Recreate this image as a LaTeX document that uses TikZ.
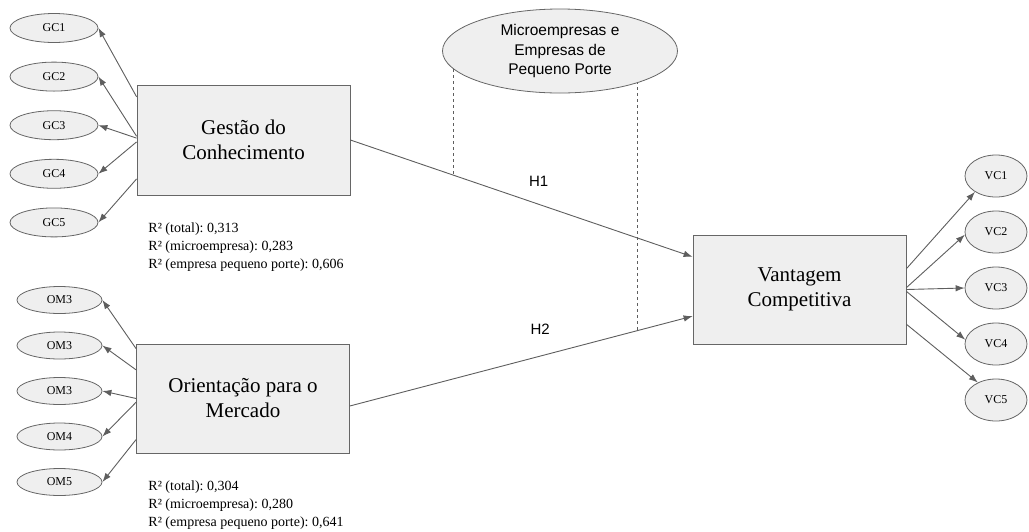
\documentclass[tikz,border=0pt]{standalone}
\usepackage{fontspec}
\setmainfont{Liberation Serif}
\newfontfamily\arialfont{Liberation Sans}
\usepackage{tikz}
\usetikzlibrary{arrows.meta,shapes,positioning}
\frenchspacing

\definecolor{boxfill}{HTML}{EFEFEF}
\definecolor{boxline}{HTML}{666666}
\definecolor{arrgray}{HTML}{5E5E5E}

\begin{document}
\begin{tikzpicture}[x=1pt,y=-1pt,->,>={Latex[length=9pt,width=6.5pt]},line width=0.9pt,
		node distance=48.6pt,
		every edge/.style={draw=arrgray},
		box/.style={rectangle,draw=boxline,fill=boxfill,line width=0.8pt,minimum width=213pt,
			minimum height=110pt,inner sep=0pt,align=center,font=\fontsize{21}{25}\selectfont},
		ind/.style={ellipse,draw=boxline,fill=boxfill,line width=0.8pt,minimum width=88pt,
			minimum height=29pt,inner sep=0pt,font=\fontsize{12}{14}\selectfont},
		rtext/.style={anchor=north west,inner sep=0pt,align=left,font=\fontsize{14}{18}\selectfont}]

		\useasboundingbox (0,0) rectangle (1029,531);

		% construtos
		\node[box] (GC) at (243.5,140) {Gestão do\\Conhecimento};
		\node[box, minimum height=109pt] (OM) at (243,398.5) {Orientação para o\\Mercado};
		\node[box, minimum height=109pt] (VC) at (799.5,289.5) {Vantagem\\Competitiva};

		% indicadores
		\node[ind] (GC1) at (54,28) {GC1};
		\node[ind] (GC2) [below of=GC1] {GC2};
		\node[ind] (GC3) [below of=GC2] {GC3};
		\node[ind] (GC4) [below of=GC3] {GC4};
		\node[ind] (GC5) [below of=GC4] {GC5};

		\node[ind, minimum width=85pt, minimum height=27pt] (OM1) at (59.5,300) {OM3};
		\node[ind, minimum width=85pt, minimum height=27pt, node distance=45.5pt] (OM2) [below of=OM1] {OM3};
		\node[ind, minimum width=85pt, minimum height=27pt, node distance=45.5pt] (OM3) [below of=OM2] {OM3};
		\node[ind, minimum width=85pt, minimum height=27pt, node distance=45.5pt] (OM4) [below of=OM3] {OM4};
		\node[ind, minimum width=85pt, minimum height=27pt, node distance=45.5pt] (OM5) [below of=OM4] {OM5};

		\node[ind, minimum width=62pt, minimum height=42pt, node distance=56pt] (VC1) at (996,176) {VC1};
		\node[ind, minimum width=62pt, minimum height=42pt, node distance=56pt] (VC2) [below of=VC1] {VC2};
		\node[ind, minimum width=62pt, minimum height=42pt, node distance=56pt] (VC3) [below of=VC2] {VC3};
		\node[ind, minimum width=62pt, minimum height=42pt, node distance=56pt] (VC4) [below of=VC3] {VC4};
		\node[ind, minimum width=62pt, minimum height=42pt, node distance=56pt] (VC5) [below of=VC4] {VC5};

		% R2
		\node[rtext] (GCr) at (148,222) {R² (total): 0,313\\R² (microempresa): 0,283\\R² (empresa pequeno porte): 0,606};
		\node[rtext] (OMr) at (148,480) {R² (total): 0,304\\R² (microempresa): 0,280\\R² (empresa pequeno porte): 0,641};

		\path
		(GC.158) edge (GC1.east)
		(GC.178) edge (GC2.east)
		(GC.179) edge (GC3.east)
		(GC.181) edge (GC4.east)
		(GC.200) edge (GC5.east)
		(OM.155) edge (OM1.east)
		(OM.165) edge (OM2.east)
		(OM.180) edge (OM3.east)
		(OM.182) edge (OM4.east)
		(OM.201) edge (OM5.east)
		(VC.11) edge (VC1.217)
		(VC.1) edge (VC2.185)
		(VC.0) edge (VC3.west)
		(VC.359) edge (VC4.172)
		(VC.342) edge (VC5.136);

		% hipoteses
		\path
		(GC.east) edge coordinate[pos=0.3] (m1) node[pos=0.55, above=14pt, font=\arialfont\fontsize{15}{18}\selectfont] {H1} (VC.163)
		(OM.356) edge coordinate[pos=0.84] (m2) node[pos=0.555, above=18pt, font=\arialfont\fontsize{15}{18}\selectfont] {H2} (VC.194);

		% moderador
		\coordinate (mc) at (560,51);
		\draw[-, dashed, draw=arrgray, line width=0.6pt] (m1 |- mc) -- (m1);
		\draw[-, dashed, draw=arrgray, line width=0.6pt] (m2 |- mc) -- (m2);
		\node[ellipse, draw=boxline, fill=boxfill, line width=0.8pt, minimum width=235pt, minimum height=84pt,
			inner sep=0pt, align=center, font=\arialfont\fontsize{15.5}{19.5}\selectfont] (ME) at (mc)
			{Microempresas e\\Empresas de\\Pequeno Porte};
	\end{tikzpicture}
\end{document}
